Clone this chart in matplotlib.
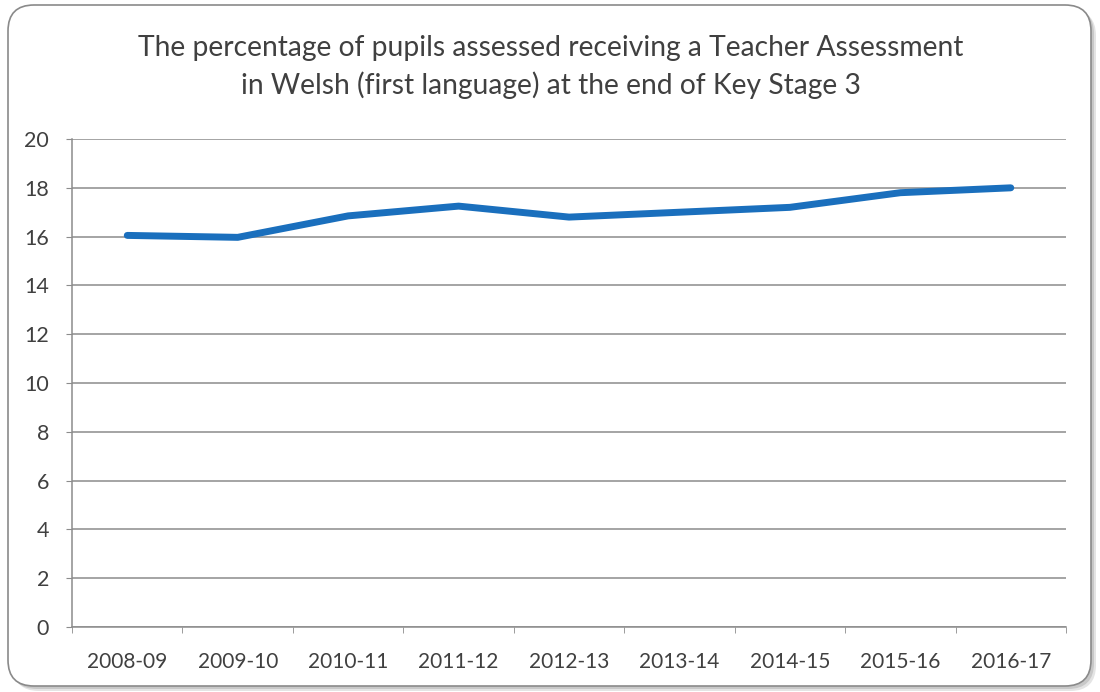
import matplotlib
matplotlib.use('Agg')
import matplotlib.pyplot as plt
import matplotlib.patches as mpatches
from matplotlib.transforms import IdentityTransform

years = ['2008-09', '2009-10', '2010-11', '2011-12', '2012-13',
         '2013-14', '2014-15', '2015-16', '2016-17']
pct = [16.05, 15.97, 16.85, 17.25, 16.8, 17.0, 17.2, 17.8, 18.0]
yticks = [0, 2, 4, 6, 8, 10, 12, 14, 16, 18, 20]

plt.rcParams['font.family'] = ['Lato', 'DejaVu Sans']
txt = '#404040'

fig = plt.figure(figsize=(11, 6.92), dpi=100)

# rounded frame with a soft shadow (pixel coords)
for off, col in [(5, '#e4e4e4'), (3, '#c8c8c8')]:
    sh = mpatches.FancyBboxPatch((8 + off, 6 - off), 1083, 681,
                                 boxstyle='round,pad=0,rounding_size=26',
                                 transform=IdentityTransform(),
                                 facecolor=col, edgecolor='none', zorder=-3)
    fig.add_artist(sh)
frame = mpatches.FancyBboxPatch((8, 6), 1083, 681,
                                boxstyle='round,pad=0,rounding_size=26',
                                transform=IdentityTransform(),
                                facecolor='white', edgecolor='#8a8a8a',
                                linewidth=1.2, zorder=-2)
fig.add_artist(frame)

ax = fig.add_axes([0.0655, 0.0939, 0.9036, 0.7052])
ax.set_facecolor('none')
x = range(len(years))
ax.plot(x, pct, color='#1a6fbd', linewidth=5, solid_capstyle='round',
        solid_joinstyle='round', zorder=3)

ax.set_xlim(-0.5, len(years) - 0.5)
ax.set_ylim(0, 20)
ax.set_yticks(yticks)
ax.set_yticklabels([str(v) for v in yticks])
ax.set_xticks(list(x))
ax.set_xticklabels(years)
ax.set_xticks([i - 0.5 for i in range(len(years) + 1)], minor=True)
ax.tick_params(axis='x', which='major', length=0, pad=18, labelsize=15, labelcolor=txt)
ax.tick_params(axis='x', which='minor', length=4.5, color='#8c8c8c', direction='out')
ax.tick_params(axis='y', length=4.5, color='#8c8c8c', pad=12, labelsize=15.5, labelcolor=txt)
ax.grid(axis='y', color='#8c8c8c', linewidth=1.1)
ax.set_axisbelow(True)
for s in ['top', 'right']:
    ax.spines[s].set_visible(False)
for s in ['left', 'bottom']:
    ax.spines[s].set_color('#8c8c8c')
    ax.spines[s].set_linewidth(1.1)

fig.text(0.501, 0.903, 'The percentage of pupils assessed receiving a Teacher Assessment\n'
         'in Welsh (first language) at the end of Key Stage 3',
         ha='center', va='center', fontsize=20.3, color=txt, linespacing=1.45)

fig.savefig('out.png', dpi=100)
